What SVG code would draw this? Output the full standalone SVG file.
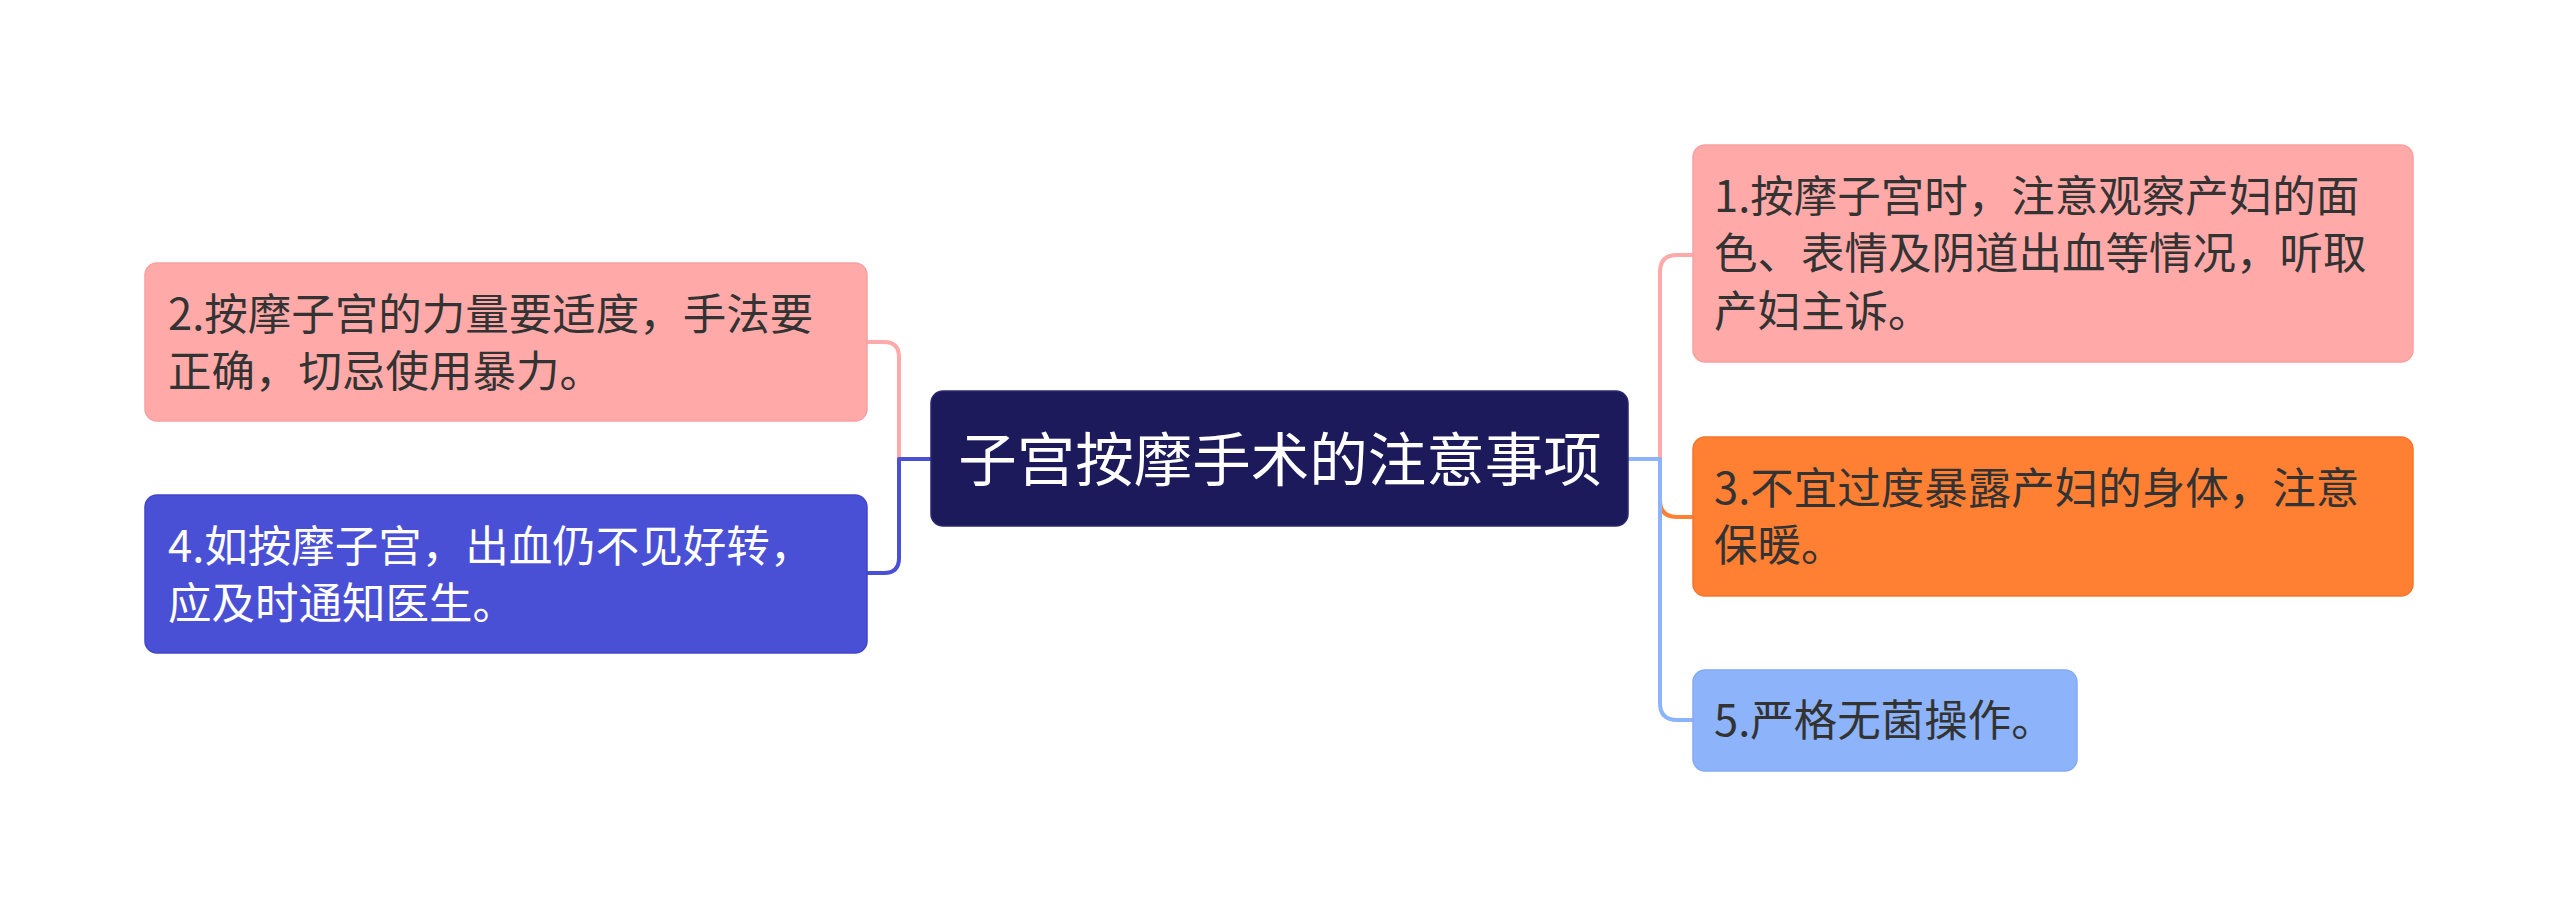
<svg xmlns="http://www.w3.org/2000/svg" width="2560" height="917" viewBox="0 0 2560 917">
<style>
text{font-family:"Noto Sans CJK SC","Noto Sans CJK JP",sans-serif;}
.t{font-size:43.5px;fill:#333333;}
.w{fill:#ffffff;}
.c{font-size:58.5px;fill:#ffffff;text-anchor:middle;}
.ln{fill:none;stroke-width:4;stroke-linecap:round;stroke-linejoin:round;}
</style>
<rect width="2560" height="917" fill="#ffffff"/>
<g id="connectors">
<path class="ln" stroke="#ffaaaa" d="M1628,459 H1660 V272 Q1660,255 1677,255 H1693"/>
<path class="ln" stroke="#ff7f33" stroke-width="5" d="M1628,459 H1660 V500 Q1660,517 1677,517 H1693"/>
<path class="ln" stroke="#8db4fa" d="M1628,459 H1660 V703 Q1660,720 1677,720 H1693"/>
<path class="ln" stroke="#ffaaaa" d="M931,459 H899 V357 Q899,342 884,342 H867"/>
<path class="ln" stroke="#4a50d5" d="M931,459 H899 V558 Q899,573 884,573 H867"/>
</g>
<g id="center">
<rect x="931" y="391" width="697" height="135" rx="12" fill="#1c1a5b" stroke="#2a2870" stroke-width="1.5"/>
<text class="c" x="1280" y="481">子宫按摩手术的注意事项</text>
</g>
<g id="node1">
<rect x="1693" y="145" width="720" height="217" rx="12" fill="#ffaaa9" stroke="#f7a0a0" stroke-width="1.5"/>
<text class="t" x="1714" y="212">1.按摩子宫时，注意观察产妇的面</text>
<text class="t" x="1714" y="269">色、表情及阴道出血等情况，听取</text>
<text class="t" x="1714" y="327">产妇主诉。</text>
</g>
<g id="node3">
<rect x="1693" y="437" width="720" height="159" rx="12" fill="#ff7f33" stroke="#f5762b" stroke-width="1.5"/>
<text class="t" x="1714" y="504">3.不宜过度暴露产妇的身体，注意</text>
<text class="t" x="1714" y="561">保暖。</text>
</g>
<g id="node5">
<rect x="1693" y="670" width="384" height="101" rx="12" fill="#8db4fa" stroke="#83abf3" stroke-width="1.5"/>
<text class="t" x="1714" y="736">5.严格无菌操作。</text>
</g>
<g id="node2">
<rect x="145" y="263" width="722" height="158" rx="12" fill="#ffaaa9" stroke="#f7a0a0" stroke-width="1.5"/>
<text class="t" x="168" y="330">2.按摩子宫的力量要适度，手法要</text>
<text class="t" x="168" y="387">正确，切忌使用暴力。</text>
</g>
<g id="node4">
<rect x="145" y="495" width="722" height="158" rx="12" fill="#4a50d5" stroke="#4047c8" stroke-width="1.5"/>
<text class="t w" x="168" y="562">4.如按摩子宫，出血仍不见好转，</text>
<text class="t w" x="168" y="619">应及时通知医生。</text>
</g>
</svg>
